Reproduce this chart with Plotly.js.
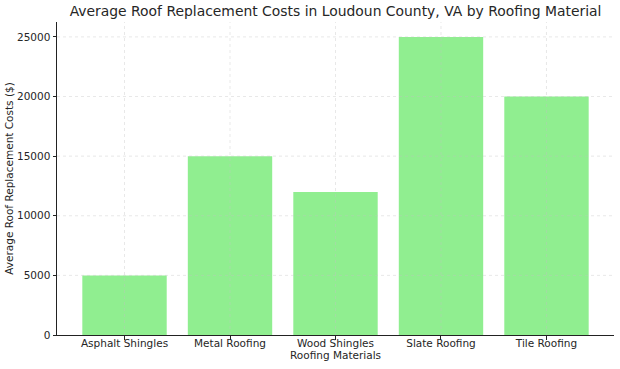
<!DOCTYPE html>
<html>
<head>
<meta charset="utf-8">
<script src="https://cdn.plot.ly/plotly-3.0.1.min.js"></script>
<style>html,body{margin:0;padding:0;background:#fff;}#chart{width:620px;height:369px;}</style>
</head>
<body>
<div id="chart"></div>
<script>
const materials = ["Asphalt Shingles", "Metal Roofing", "Wood Shingles", "Slate Roofing", "Tile Roofing"];
const avgCosts = [5000, 15000, 12000, 25000, 20000];
const yTicks = [0, 5000, 10000, 15000, 20000, 25000];

const gridStyle = {color: "rgba(195,195,195,0.55)", width: 0.7, dash: "dot"};
const shapes = [];
materials.forEach(m => shapes.push({type: "line", xref: "x", yref: "paper", x0: m, x1: m, y0: 0, y1: 1, line: gridStyle, layer: "above"}));
yTicks.slice(1).forEach(v => shapes.push({type: "line", xref: "paper", yref: "y", x0: 0, x1: 1, y0: v, y1: v, line: gridStyle, layer: "above"}));

const font = {family: "DejaVu Sans, sans-serif", color: "#262626", size: 10.5};

Plotly.newPlot("chart", [{
  type: "bar",
  x: materials,
  y: avgCosts,
  width: 0.8,
  marker: {color: "#90ee90", line: {width: 0}},
  hoverinfo: "x+y"
}], {
  width: 620, height: 369,
  margin: {l: 57, r: 6, t: 22, b: 34, pad: 0},
  paper_bgcolor: "#fff", plot_bgcolor: "#fff",
  font: font,
  showlegend: false,
  title: {text: "Average Roof Replacement Costs in Loudoun County, VA by Roofing Material",
          font: {family: "DejaVu Sans, sans-serif", size: 13.9, color: "#262626"},
          xref: "paper", x: 0.5, xanchor: "center", yref: "container", y: 0.982, yanchor: "top"},
  xaxis: {
    type: "category", range: [-0.64, 4.64],
    showgrid: false, zeroline: false,
    showline: true, linecolor: "#222", linewidth: 1,
    ticks: "outside", ticklen: 3.5, tickcolor: "#222", tickwidth: 1,
    ticklabelstandoff: -5,
    tickfont: font,
    title: {text: "Roofing Materials", font: font, standoff: 1}
  },
  yaxis: {
    range: [0, 26250],
    tickvals: yTicks, tickformat: "d",
    showgrid: false, zeroline: false,
    showline: true, linecolor: "#222", linewidth: 1,
    ticks: "outside", ticklen: 3.5, tickcolor: "#222", tickwidth: 1,
    tickfont: font,
    title: {text: "Average Roof Replacement Costs ($)", font: font, standoff: 1}
  },
  shapes: shapes
}, {displayModeBar: false, staticPlot: true});
</script>
</body>
</html>
